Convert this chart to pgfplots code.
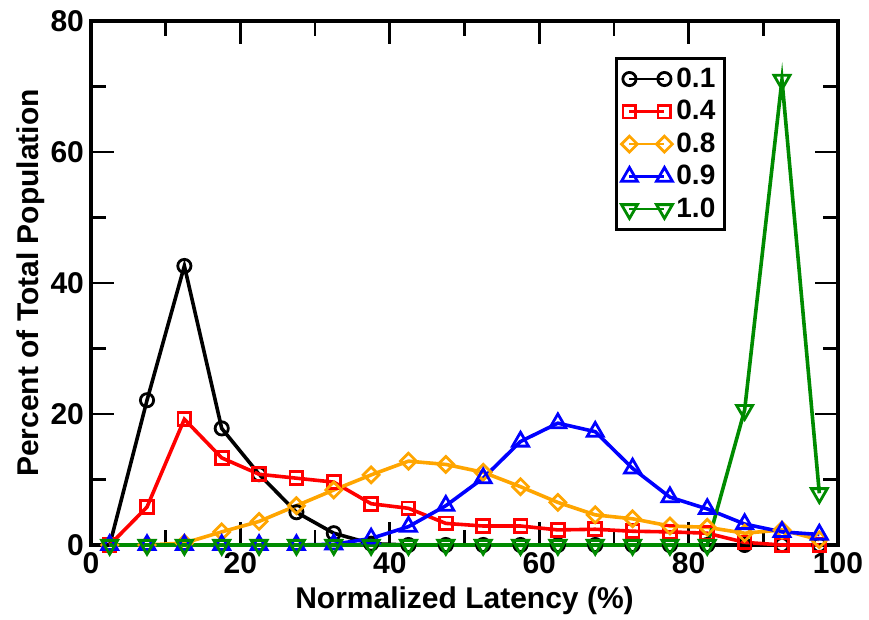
\documentclass[border=0pt]{standalone}
\usepackage{fontspec}
\setmainfont{Liberation Sans}
\usepackage{pgfplots}
\pgfplotsset{compat=1.18}
\definecolor{gorange}{RGB}{255,165,0}
\definecolor{ggreen}{RGB}{0,139,0}
\newcommand\f{\fontsize{15}{18}\selectfont\bfseries}

\pgfplotstableread{
x    a     b     c     d     e
2.5  0     0     0     0     0
7.5  22.1  5.8   0     0     0
12.5 42.6  19.2  0.3   0     0
17.5 17.8  13.3  2.0   0     0
22.5 10.8  10.8  3.6   0     0
27.5 5.0   10.2  6.0   0     0
32.5 1.8   9.6   8.4   0.1   0
37.5 0.2   6.3   10.7  1.0   0
42.5 0     5.6   12.8  2.8   0
47.5 0     3.3   12.3  6.0   0
52.5 0     2.9   11.1  10.2  0
57.5 0     2.9   8.9   15.8  0
62.5 0     2.3   6.5   18.6  0
67.5 0     2.4   4.6   17.3  0
72.5 0     2.1   4.0   11.7  0
77.5 0     2.0   2.9   7.3   0
82.5 0     1.8   2.7   5.5   0
87.5 0     0.4   1.8   3.2   20.6
92.5 0     0     2.3   2.0   71.0
97.5 0     0     0.8   1.6   7.9
}\data

\begin{document}
\begin{tikzpicture}
\begin{axis}[
  scale only axis,
  width=373.5pt, height=262pt,
  xmin=0, xmax=100, ymin=0, ymax=80,
  xtick={0,20,...,100}, ytick={0,20,...,80},
  minor x tick num=1, minor y tick num=1,
  tick align=inside,
  major tick length=11.5pt, minor tick length=7.5pt,
  every tick/.style={black, line width=1.4pt},
  axis line style={line width=1.6pt},
  xlabel={Normalized Latency (\%)},
  ylabel={Percent of Total Population},
  ylabel style={yshift=-4pt},
  label style={font=\f},
  tick label style={font=\f},
  /pgf/number format/assume math mode=true,
  clip=false,
  legend cell align=left,
  legend style={at={(rel axis cs:0.85,0.931)}, anchor=north east,
    draw=black, line width=1.6pt, font=\fontsize{14}{16}\selectfont\bfseries,
    inner sep=2.5pt, row sep=1pt},
  legend image code/.code={\draw[#1, line width=1.2pt] plot coordinates {(0pt,0pt) (17.5pt,0pt)};},
]
\addplot[black, line width=1.8pt, mark=o, mark size=3.3pt, mark options={solid, line width=1.4pt}] table[x=x, y=a] {\data};
\addlegendentry{0.1}
\addplot[red, line width=1.8pt, mark=square, mark size=3.2pt, mark options={solid, line width=1.4pt}] table[x=x, y=b] {\data};
\addlegendentry{0.4}
\addplot[gorange, line width=1.8pt, mark=square, mark size=2.8pt, mark options={solid, line width=1.4pt, rotate=45}] table[x=x, y=c] {\data};
\addlegendentry{0.8}
\addplot[blue, line width=1.8pt, mark=triangle, mark size=4.6pt, mark options={solid, line width=1.4pt}] table[x=x, y=d] {\data};
\addlegendentry{0.9}
\addplot[ggreen, line width=1.8pt, mark=triangle, mark size=4.6pt, mark options={solid, line width=1.4pt, rotate=180}] table[x=x, y=e] {\data};
\addlegendentry{1.0}
\end{axis}
\pgfresetboundingbox
\path ([shift={(-45.5pt,-37.5pt)}]current axis.south west) rectangle ([shift={(15.5pt,10.5pt)}]current axis.north east);
\end{tikzpicture}
\end{document}
